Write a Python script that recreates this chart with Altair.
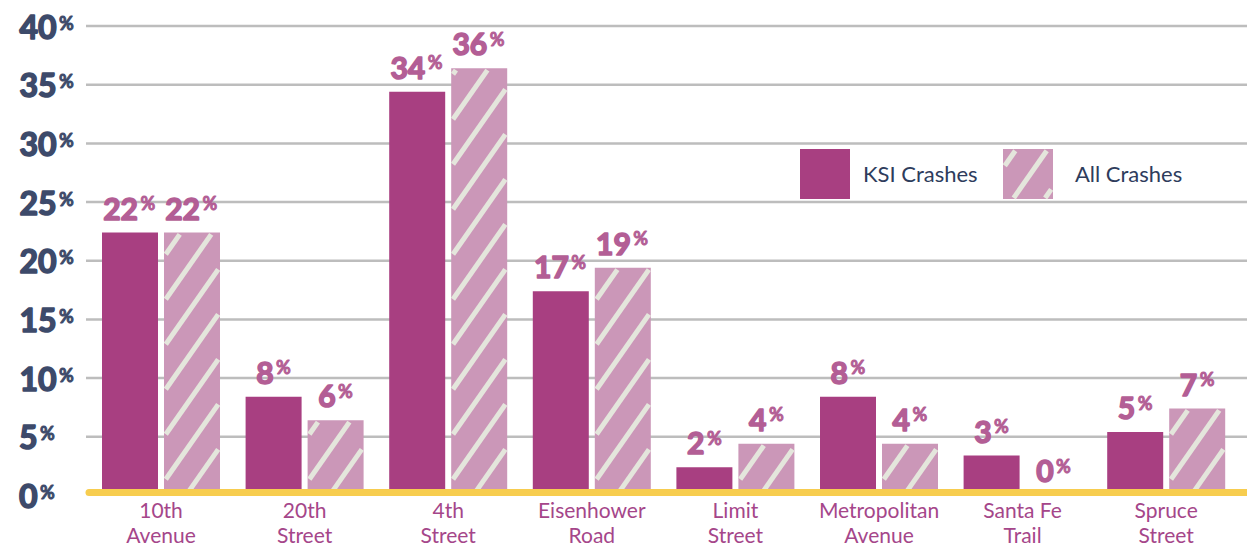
import altair as alt
import pandas as pd

# ---------------- data ----------------
streets = ["10th Avenue", "20th Street", "4th Street", "Eisenhower Road",
           "Limit Street", "Metropolitan Avenue", "Santa Fe Trail", "Spruce Street"]
street_line1 = ["10th", "20th", "4th", "Eisenhower", "Limit", "Metropolitan", "Santa Fe", "Spruce"]
street_line2 = ["Avenue", "Street", "Street", "Road", "Street", "Avenue", "Trail", "Street"]
ksi_values = [22.4, 8.4, 34.4, 17.4, 2.4, 8.4, 3.4, 5.4]
all_values = [22.4, 6.4, 36.4, 19.4, 4.4, 4.4, 0.0, 7.4]
ksi_labels = ["22", "8", "34", "17", "2", "8", "3", "5"]
all_labels = ["22", "6", "36", "19", "4", "4", "0", "7"]
series_names = ["KSI Crashes", "All Crashes"]
y_ticks = [0, 5, 10, 15, 20, 25, 30, 35, 40]

# ---------------- style / layout ----------------
KSI_COLOR = "#a83f81"
ALL_COLOR = "#cb97b8"
STRIPE = "#e4e6dc"
GRID = "#bdbdbd"
YELLOW = "#f7cd4f"
NAVY = "#3d4a6a"
VAL_PINK = "#b35e95"
CAT_PINK = "#a5468a"
LEG_TEXT = "#2e3c5c"
FONT = "Lato"

W, H, M = 1239, 540, 8
PX = 143.6          # pixels per street group
X_FIRST = 161.0     # screen x of first group centre
Y0 = 495.4          # screen y of 0 %
PY = 11.734         # pixels per percent

x0 = -(X_FIRST - M) / PX
x1 = x0 + W / PX
y_lo = (Y0 - M - H) / PY
y_hi = (Y0 - M) / PY


def sx(px):
    return x0 + (px - M) / PX


def sy(py):
    return (Y0 - py) / PY


def gx(i):  # screen x of group centre
    return X_FIRST + PX * i


BAR_W, BAR_GAP = 56, 3

XS = alt.Scale(domain=[x0, x1], nice=False, zero=False, padding=0)
YS = alt.Scale(domain=[y_lo, y_hi], nice=False, zero=False, padding=0)


def X(f):
    return alt.X(f, type="quantitative", scale=XS, axis=None)


def Y(f):
    return alt.Y(f, type="quantitative", scale=YS, axis=None)


color_scale = alt.Scale(domain=series_names, range=[KSI_COLOR, ALL_COLOR])

# ---------------- bars ----------------
bar_rows = []
for i, s in enumerate(streets):
    c = gx(i)
    bar_rows.append(dict(street=s, series=series_names[0], x=sx(c - BAR_GAP - BAR_W),
                         x2=sx(c - BAR_GAP), y=0, y2=ksi_values[i]))
    bar_rows.append(dict(street=s, series=series_names[1], x=sx(c + BAR_GAP),
                         x2=sx(c + BAR_GAP + BAR_W), y=0, y2=all_values[i]))
bars_df = pd.DataFrame(bar_rows)

# ---------------- hatch stripes ----------------
SLOPE = 1.43
VSPACE = 45.0
HSPACE = VSPACE / SLOPE


def stripes(L, R, bottom, top, phase):
    out = []
    h = bottom - top
    if h <= 2:
        return out
    Lc, Rc = L + 1.8, R - 1.8
    yb, yt = 1.0, h - 1.8
    for k in range(-30, 30):
        xk = L + phase + k * HSPACE
        xs_ = max(Lc, xk + yb / SLOPE)
        xe_ = min(Rc, xk + yt / SLOPE)
        if xe_ - xs_ > 0.5:
            out.append(dict(x=sx(xs_), x2=sx(xe_),
                            y=sy(bottom - SLOPE * (xs_ - xk)),
                            y2=sy(bottom - SLOPE * (xe_ - xk))))
    return out


stripe_rows = []
for i, v in enumerate(all_values):
    L = gx(i) + BAR_GAP
    stripe_rows += stripes(L, L + BAR_W, Y0, Y0 - PY * v, 22)

# ---------------- legend ----------------
LEG_TOP, LEG_BOT = 149, 199
leg_boxes = [(800, 850, 863), (1003, 1053, 1075)]
leg_df = pd.DataFrame([dict(series=series_names[j], x=sx(a), x2=sx(b), y=sy(LEG_BOT), y2=sy(LEG_TOP),
                            tx=sx(t), ty=sy(182)) for j, (a, b, t) in enumerate(leg_boxes)])
stripe_rows += stripes(leg_boxes[1][0], leg_boxes[1][1], LEG_BOT, LEG_TOP, 10)
stripes_df = pd.DataFrame(stripe_rows)

# ---------------- grid & baseline ----------------
grid_df = pd.DataFrame(dict(tick=[t for t in y_ticks if t > 0]))
grid_df["xs"] = sx(86)
grid_df["xe"] = x1
base_df = pd.DataFrame(dict(y=[0], xs=[sx(89)], xe=[x1]))

# ---------------- y labels ----------------
ylab = pd.DataFrame(dict(tick=y_ticks, num=[str(t) for t in y_ticks]))
ylab["xr"] = [sx(18.5 + 19.0 * len(n)) for n in ylab["num"]]
ylab["xp"] = [sx(18.5 + 19.0 * len(n) + 2.5) for n in ylab["num"]]
ylab["pct"] = "%"

# ---------------- value labels ----------------
vrows = []
for i in range(len(streets)):
    for j, (vals, labs) in enumerate([(ksi_values, ksi_labels), (all_values, all_labels)]):
        c = gx(i) + (-1 if j == 0 else 1) * (BAR_GAP + BAR_W / 2)
        n = len(labs[i])
        off = 0 if n == 1 else 8
        vrows.append(dict(xr=sx(c + off), xp=sx(c + off + 2.5), y=vals[i], num=labs[i], pct="%"))
vdf = pd.DataFrame(vrows)

# ---------------- category labels ----------------
cat_df = pd.DataFrame(dict(x=list(range(len(streets))), l1=street_line1, l2=street_line2))
cat_df["y1"] = sy(518)
cat_df["y2"] = sy(543)

# ---------------- layers ----------------
grid = alt.Chart(grid_df).mark_rule(color=GRID, strokeWidth=2.5).encode(
    x=X("xs"), x2=alt.X2("xe"), y=Y("tick"))

bars = alt.Chart(bars_df).mark_bar().encode(
    x=X("x"), x2=alt.X2("x2"), y=Y("y"), y2=alt.Y2("y2"),
    color=alt.Color("series:N", scale=color_scale, legend=None))

hatch = alt.Chart(stripes_df).mark_rule(color=STRIPE, strokeWidth=5, strokeCap="butt").encode(
    x=X("x"), x2=alt.X2("x2"), y=Y("y"), y2=alt.Y2("y2"))

baseline = alt.Chart(base_df).mark_rule(color=YELLOW, strokeWidth=7, strokeCap="round", yOffset=-3).encode(
    x=X("xs"), x2=alt.X2("xe"), y=Y("y"))

ynum = alt.Chart(ylab).mark_text(align="right", baseline="alphabetic", dy=12.5, font=FONT,
                                 fontSize=32, fontWeight="bold", color=NAVY,
                                 stroke=NAVY, strokeWidth=1.6, strokeJoin="round").encode(
    x=X("xr"), y=Y("tick"), text="num:N")
ypct = alt.Chart(ylab).mark_text(align="left", baseline="alphabetic", dy=3.5, font=FONT,
                                 fontSize=18, fontWeight="bold", color=NAVY,
                                 stroke=NAVY, strokeWidth=0.9, strokeJoin="round").encode(
    x=X("xp"), y=Y("tick"), text="pct:N")

vnum = alt.Chart(vdf).mark_text(align="right", baseline="alphabetic", dy=-13, font=FONT,
                                fontSize=30, fontWeight="bold", color=VAL_PINK,
                                stroke=VAL_PINK, strokeWidth=1.6, strokeJoin="round").encode(
    x=X("xr"), y=Y("y"), text="num:N")
vpct = alt.Chart(vdf).mark_text(align="left", baseline="alphabetic", dy=-22.5, font=FONT,
                                fontSize=18, fontWeight="bold", color=VAL_PINK,
                                stroke=VAL_PINK, strokeWidth=0.9, strokeJoin="round").encode(
    x=X("xp"), y=Y("y"), text="pct:N")

cat1 = alt.Chart(cat_df).mark_text(align="center", baseline="alphabetic", font=FONT,
                                   fontSize=21, color=CAT_PINK).encode(
    x=X("x"), y=Y("y1"), text="l1:N")
cat2 = alt.Chart(cat_df).mark_text(align="center", baseline="alphabetic", font=FONT,
                                   fontSize=21, color=CAT_PINK).encode(
    x=X("x"), y=Y("y2"), text="l2:N")

leg_rect = alt.Chart(leg_df).mark_rect().encode(
    x=X("x"), x2=alt.X2("x2"), y=Y("y"), y2=alt.Y2("y2"),
    color=alt.Color("series:N", scale=color_scale, legend=None))
leg_text = alt.Chart(leg_df).mark_text(align="left", baseline="alphabetic", font=FONT,
                                       fontSize=22, color=LEG_TEXT).encode(
    x=X("tx"), y=Y("ty"), text="series:N")

chart = alt.layer(grid, bars, leg_rect, hatch, baseline, ynum, ypct, vnum, vpct,
                  cat1, cat2, leg_text).properties(
    width=W, height=H, padding=0,
    autosize=alt.AutoSizeParams(type="none"),
    background="white",
).configure_view(strokeWidth=0)

chart.save("out.html", embed_options={"renderer": "svg", "actions": False})
